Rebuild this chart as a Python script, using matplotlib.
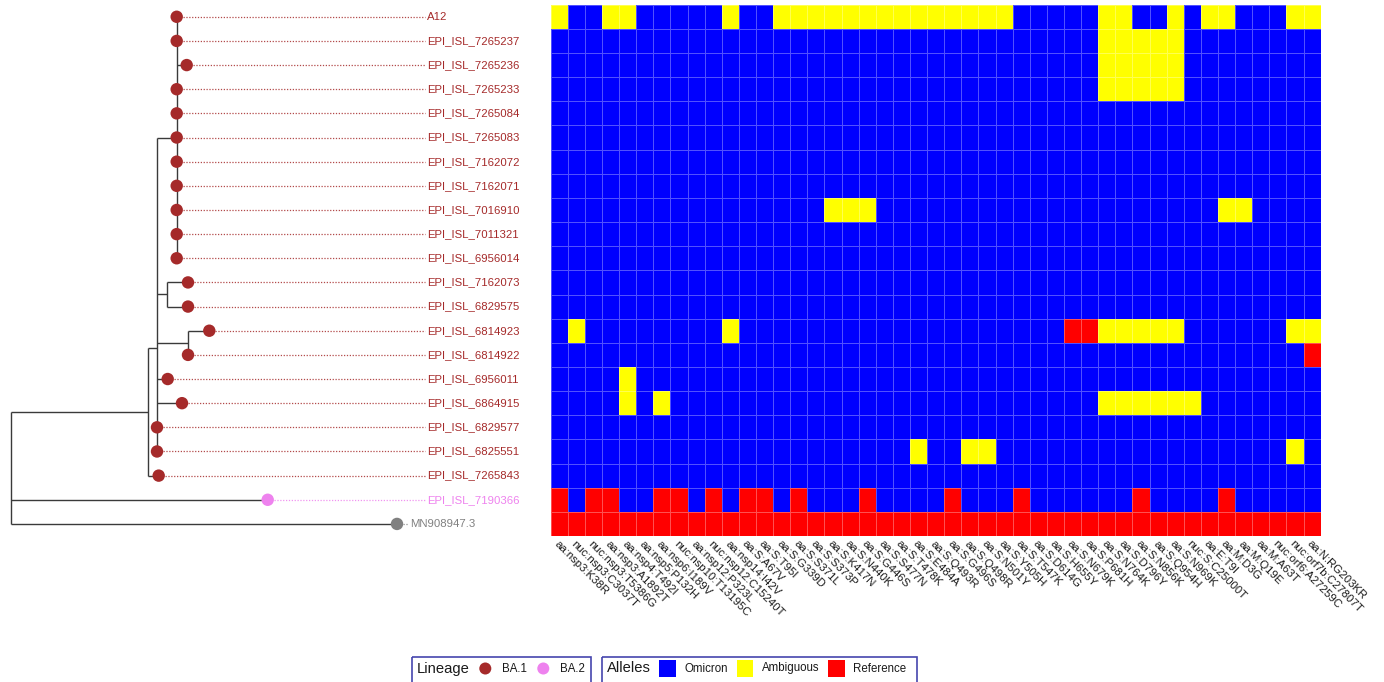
import matplotlib
matplotlib.use("Agg")
import matplotlib.pyplot as plt
import numpy as np
from matplotlib.colors import ListedColormap, BoundaryNorm
from matplotlib.patches import Rectangle
from matplotlib.lines import Line2D

plt.rcParams['font.family'] = ['Liberation Sans', 'DejaVu Sans']

# ---------------- data ----------------
tip_labels = ["A12", "EPI_ISL_7265237", "EPI_ISL_7265236", "EPI_ISL_7265233",
              "EPI_ISL_7265084", "EPI_ISL_7265083", "EPI_ISL_7162072", "EPI_ISL_7162071",
              "EPI_ISL_7016910", "EPI_ISL_7011321", "EPI_ISL_6956014", "EPI_ISL_7162073",
              "EPI_ISL_6829575", "EPI_ISL_6814923", "EPI_ISL_6814922", "EPI_ISL_6956011",
              "EPI_ISL_6864915", "EPI_ISL_6829577", "EPI_ISL_6825551", "EPI_ISL_7265843",
              "EPI_ISL_7190366", "MN908947.3"]
tip_lineage = ["BA.1"] * 20 + ["BA.2", "ref"]

lineage_names = ["BA.1", "BA.2"]
lineage_colors = {"BA.1": "#A52A2A", "BA.2": "#EE82EE", "ref": "#808080"}

# tree edges: child, parent, branch length
edge_child = ["BA1", "A", "B", "C1112", "C1314",
              "A12", "EPI_ISL_7265237", "EPI_ISL_7265236", "EPI_ISL_7265233",
              "EPI_ISL_7265084", "EPI_ISL_7265083", "EPI_ISL_7162072", "EPI_ISL_7162071",
              "EPI_ISL_7016910", "EPI_ISL_7011321", "EPI_ISL_6956014",
              "EPI_ISL_7162073", "EPI_ISL_6829575",
              "EPI_ISL_6814923", "EPI_ISL_6814922",
              "EPI_ISL_6956011", "EPI_ISL_6864915", "EPI_ISL_6829577", "EPI_ISL_6825551",
              "EPI_ISL_7265843", "EPI_ISL_7190366", "MN908947.3"]
edge_parent = ["root", "BA1", "A", "A", "A",
               "B", "B", "B", "B", "B", "B", "B", "B", "B", "B", "B",
               "C1112", "C1112",
               "C1314", "C1314",
               "A", "A", "A", "A",
               "BA1", "root", "root"]
edge_length = [137.0, 9.0, 19.7, 10.3, 31.0,
               0.0, 0.0, 10.0, 0.0, 0.0, 0.0, 0.0, 0.0, 0.0, 0.0, 0.0,
               20.7, 20.7,
               21.3, 0.0,
               10.7, 25.0, 0.0, 0.0,
               10.7, 256.7, 386.0]

mutations = ["aa:nsp3:K38R", "nuc:nsp3:C3037T", "nuc:nsp3:T5386G", "aa:nsp3:A1892T",
             "aa:nsp4:T492I", "aa:nsp5:P132H", "aa:nsp6:I189V", "nuc:nsp10:T13195C",
             "aa:nsp12:P323L", "nuc:nsp12:C15240T", "aa:nsp14:I42V", "aa:S:A67V",
             "aa:S:T95I", "aa:S:G339D", "aa:S:S371L", "aa:S:S373P", "aa:S:K417N",
             "aa:S:N440K", "aa:S:G446S", "aa:S:S477N", "aa:S:T478K", "aa:S:E484A",
             "aa:S:Q493R", "aa:S:G496S", "aa:S:Q498R", "aa:S:N501Y", "aa:S:Y505H",
             "aa:S:T547K", "aa:S:D614G", "aa:S:H655Y", "aa:S:N679K", "aa:S:P681H",
             "aa:S:N764K", "aa:S:D796Y", "aa:S:N856K", "aa:S:Q954H", "aa:S:N969K",
             "nuc:S:C25000T", "aa:E:T9I", "aa:M:D3G", "aa:M:Q19E", "aa:M:A63T",
             "nuc:orf6:A27259C", "nuc:orf7b:C27807T", "aa:N:RG203KR"]

allele_names = ["Omicron", "Ambiguous", "Reference"]
allele_colors = ["#0000FF", "#FFFF00", "#FF0000"]

# 0 = Omicron, 1 = Ambiguous, 2 = Reference (rows in tip order)
allele_rows = [
    "100110000010011111111111111000001100101100011",
    "000000000000000000000000000000001111100000000",
    "000000000000000000000000000000001111100000000",
    "000000000000000000000000000000001111100000000",
    "000000000000000000000000000000000000000000000",
    "000000000000000000000000000000000000000000000",
    "000000000000000000000000000000000000000000000",
    "000000000000000000000000000000000000000000000",
    "000000000000000011100000000000000000000110000",
    "000000000000000000000000000000000000000000000",
    "000000000000000000000000000000000000000000000",
    "000000000000000000000000000000000000000000000",
    "000000000000000000000000000000000000000000000",
    "010000000010000000000000000000221111100000011",
    "000000000000000000000000000000000000000000002",
    "000010000000000000000000000000000000000000000",
    "000010100000000000000000000000001111110000000",
    "000000000000000000000000000000000000000000000",
    "000000000000000000000100110000000000000000010",
    "000000000000000000000000000000000000000000000",
    "202200220202202000200002000200000020000200000",
    "222222222222222222222222222222222222222222222",
]

# ---------------- layout ----------------
W, H = 1384, 682
fig = plt.figure(figsize=(W / 100, H / 100), dpi=100)
top_px, bot_px = 4.7, 536.0
hm_l, hm_r = 550.7, 1320.7
ax_hm = fig.add_axes([hm_l / W, 1 - bot_px / H, (hm_r - hm_l) / W, (bot_px - top_px) / H])
ax_tr = fig.add_axes([0, 1 - bot_px / H, 540 / W, (bot_px - top_px) / H])

# ---------------- heatmap ----------------
mat = np.array([[int(c) for c in r] for r in allele_rows])
cmap = ListedColormap(allele_colors)
norm = BoundaryNorm([-0.5, 0.5, 1.5, 2.5], 3)
ax_hm.pcolormesh(mat, cmap=cmap, norm=norm, edgecolors=(1, 1, 1, 0.32), linewidth=0.6)
ax_hm.set_xlim(0, len(mutations))
ax_hm.set_ylim(len(tip_labels), 0)
ax_hm.set_yticks([])
ax_hm.set_xticks(np.arange(len(mutations)) + 0.5)
ax_hm.set_xticklabels(mutations, rotation=-45, ha='left', va='top',
                      rotation_mode='anchor', fontsize=8.2, color='#1a1a1a')
ax_hm.tick_params(axis='x', length=0, pad=2)
for s in ax_hm.spines.values():
    s.set_visible(False)

# ---------------- tree ----------------
parent = dict(zip(edge_child, edge_parent))
blen = dict(zip(edge_child, edge_length))
children = {}
for c, p in zip(edge_child, edge_parent):
    children.setdefault(p, []).append(c)

xpos = {"root": 0.0}
def get_x(n):
    if n not in xpos:
        xpos[n] = get_x(parent[n]) + blen[n]
    return xpos[n]
for n in edge_child:
    get_x(n)

ypos = {name: i for i, name in enumerate(tip_labels)}
def get_y(n):
    if n not in ypos:
        ypos[n] = float(np.mean([get_y(c) for c in children[n]]))
    return ypos[n]
get_y("root")

line_kw = dict(color='#3a3a3a', lw=1.0, solid_capstyle='butt', zorder=2)
for n, ch in children.items():
    ys = [ypos[c] for c in ch]
    ax_tr.plot([xpos[n], xpos[n]], [min(ys), max(ys)], **line_kw)
for c in edge_child:
    p = parent[c]
    ax_tr.plot([xpos[p], xpos[c]], [ypos[c], ypos[c]], **line_kw)

label_x = 416.0
for i, name in enumerate(tip_labels):
    col = lineage_colors[tip_lineage[i]]
    tx = xpos[name]
    lx = 399.0 if tip_lineage[i] == "ref" else label_x
    ax_tr.plot([tx + 6, lx - 2], [i, i], color=col, lw=0.9,
               linestyle=(0, (1, 1.3)), zorder=1, alpha=0.85)
    ax_tr.scatter([tx], [i], s=80, color=col, zorder=3, edgecolors='none')
    ax_tr.text(lx, i, name, color=col, fontsize=8.2, va='center', ha='left')

ax_tr.set_xlim(-11, 529)
ax_tr.set_ylim(len(tip_labels) - 0.5, -0.5)
ax_tr.axis('off')

# ---------------- legends ----------------
ax_lg = fig.add_axes([0, 0, 1, 1])
ax_lg.set_xlim(0, W)
ax_lg.set_ylim(H, 0)
ax_lg.axis('off')
ax_lg.patch.set_alpha(0)
box_col = '#4646AE'
yc = 668.5
ax_lg.add_patch(Rectangle((411.7, 656.5), 179, 40, fill=False, edgecolor=box_col, lw=1.2))
ax_lg.text(416.5, yc, "Lineage", fontsize=10.6, va='center', ha='left', color='#1a1a1a')
for name, xm in zip(lineage_names, [485.3, 543.3]):
    ax_lg.scatter([xm], [yc], s=75, color=lineage_colors[name], edgecolors='none')
    ax_lg.text(xm + 16.5, yc, name, fontsize=8.3, va='center', ha='left', color='#1a1a1a')

ax_lg.add_patch(Rectangle((601.7, 656.5), 315, 40, fill=False, edgecolor=box_col, lw=1.2))
ax_lg.text(607, yc, "Alleles", fontsize=10.6, va='center', ha='left', color='#1a1a1a')
for name, colr, xs in zip(allele_names, allele_colors, [659.3, 736.7, 828.3]):
    ax_lg.add_patch(Rectangle((xs, yc - 8.3), 16.7, 16.7, color=colr, lw=0))
    ax_lg.text(xs + 25, yc, name, fontsize=8.3, va='center', ha='left', color='#1a1a1a')

fig.savefig("out.png", dpi=100)
